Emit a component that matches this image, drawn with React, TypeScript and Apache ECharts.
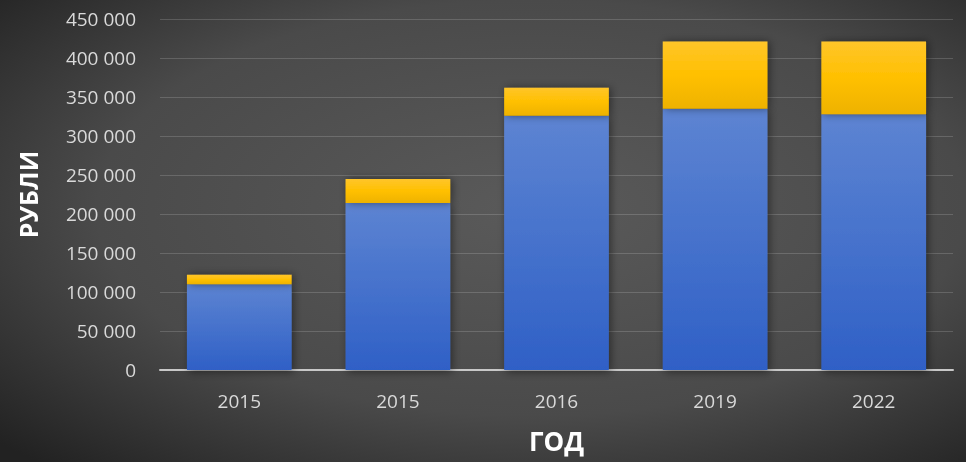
import React, { useEffect, useRef } from "react";
import * as echarts from "echarts";

const categories = ["2015", "2015", "2016", "2019", "2022"];
const blueValues = [110000, 214000, 326000, 335000, 328000];
const yellowValues = [12000, 31000, 36000, 86000, 93000];
const yTicks = { min: 0, max: 450000, interval: 50000 };
const yName = "РУБЛИ";
const xName = "ГОД";

function fmt(v: number): string {
  return String(v).replace(/\B(?=(\d{3})+(?!\d))/g, " ");
}

export default function App() {
  const ref = useRef<HTMLDivElement>(null);
  useEffect(() => {
    if (!ref.current) return;
    const chart = echarts.init(ref.current, undefined, { renderer: "svg" });
    const font = "'Open Sans', 'Noto Sans', sans-serif";
    chart.setOption({
      animation: false,
      backgroundColor: {
        type: "radial",
        x: 0.55,
        y: 0.45,
        r: 0.75,
        colorStops: [
          { offset: 0, color: "#5a5a5a" },
          { offset: 0.6, color: "#4a4a4a" },
          { offset: 1, color: "#222222" },
        ],
      },
      grid: { left: 160, right: 13, top: 19, bottom: 92, containLabel: false },
      xAxis: {
        type: "category",
        data: categories,
        name: xName,
        nameLocation: "middle",
        nameGap: 71,
        nameTextStyle: { color: "#ffffff", fontSize: 26, fontWeight: "bold", fontFamily: font, verticalAlign: "middle" },
        axisLine: { lineStyle: { color: "#c8c8c8", width: 2 } },
        axisTick: { show: false },
        axisLabel: { color: "#d9d9d9", fontSize: 19, margin: 21, fontFamily: font },
      },
      yAxis: {
        type: "value",
        min: yTicks.min,
        max: yTicks.max,
        interval: yTicks.interval,
        name: yName,
        nameLocation: "middle",
        nameRotate: 90,
        nameGap: 132,
        nameTextStyle: { color: "#ffffff", fontSize: 25, fontWeight: "bold", fontFamily: font, verticalAlign: "middle" },
        axisLine: { show: false },
        axisTick: { show: false },
        axisLabel: { color: "#d9d9d9", fontSize: 19, margin: 24, fontFamily: font, formatter: (v: number) => fmt(v) },
        splitLine: { lineStyle: { color: "rgba(255,255,255,0.16)", width: 1 } },
      },
      series: [
        {
          type: "bar",
          stack: "total",
          data: blueValues,
          barWidth: "66%",
          itemStyle: {
            color: {
              type: "linear", x: 0, y: 0, x2: 0, y2: 1,
              colorStops: [
                { offset: 0, color: "#5d84d2" },
                { offset: 1, color: "#2f60c6" },
              ],
            },
            shadowBlur: 8,
            shadowColor: "rgba(0,0,0,0.45)",
            shadowOffsetX: 2,
            shadowOffsetY: 2,
          },
        },
        {
          type: "bar",
          stack: "total",
          data: yellowValues,
          barWidth: "66%",
          itemStyle: {
            color: {
              type: "linear", x: 0, y: 0, x2: 0, y2: 1,
              colorStops: [
                { offset: 0, color: "#ffc52a" },
                { offset: 0.5, color: "#ffc000" },
                { offset: 1, color: "#eeb200" },
              ],
            },
            shadowBlur: 8,
            shadowColor: "rgba(0,0,0,0.45)",
            shadowOffsetX: 2,
            shadowOffsetY: 0,
          },
        },
      ],
    });
    return () => chart.dispose();
  }, []);
  return (
    <div
      ref={ref}
      style={{ position: "fixed", left: 0, top: 0, width: 966, height: 462 }}
    />
  );
}
